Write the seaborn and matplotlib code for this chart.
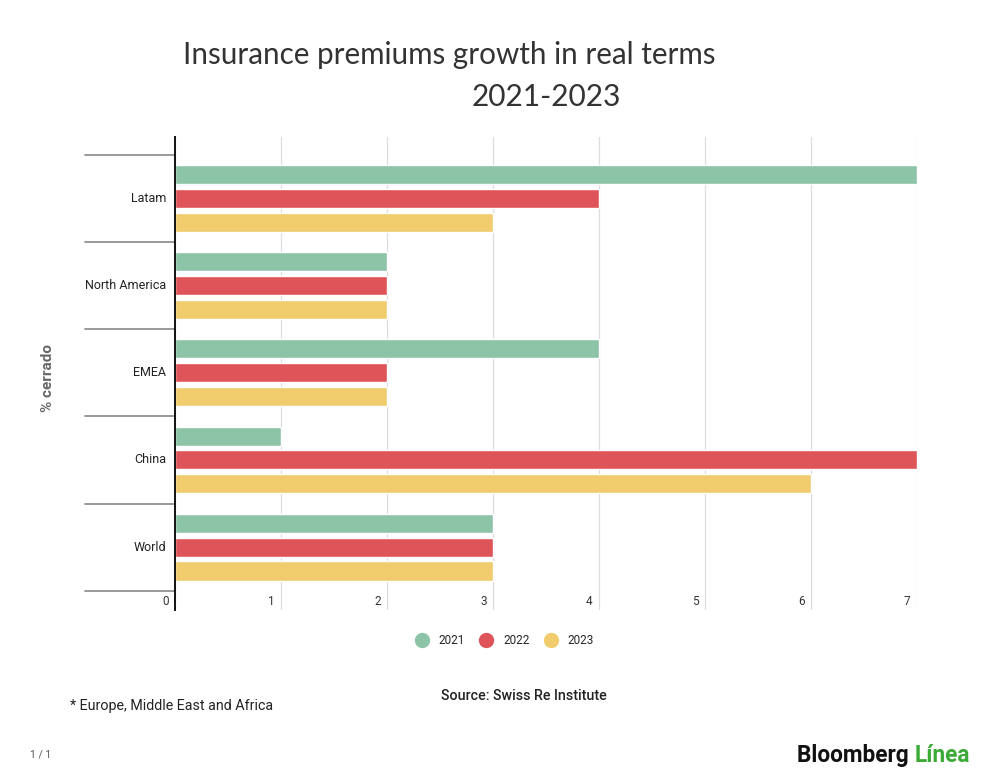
import pandas as pd
import matplotlib.pyplot as plt
import matplotlib.transforms as mtransforms
from matplotlib.lines import Line2D
import seaborn as sns

regions = ['Latam', 'North America', 'EMEA', 'China', 'World']
years = ['2021', '2022', '2023']
growth_2021 = [7, 2, 4, 1, 3]
growth_2022 = [4, 2, 2, 7, 3]
growth_2023 = [3, 2, 2, 6, 3]
x_ticks = [0, 1, 2, 3, 4, 5, 6, 7]
colors = ['#8DC4A8', '#DF5458', '#F0CC6C']

df = pd.DataFrame({
    'region': regions * 3,
    'year': [y for y in years for _ in regions],
    'value': growth_2021 + growth_2022 + growth_2023,
})

sns.set_theme(style='white')
plt.rcParams['font.family'] = ['Roboto', 'DejaVu Sans']

fig = plt.figure(figsize=(10, 7.84), dpi=100)
ax = fig.add_axes([0.175, 0.222, 0.742, 0.603])

sns.barplot(data=df, y='region', x='value', hue='year', order=regions,
            hue_order=years, palette=colors, orient='h', width=0.82,
            gap=0.2, saturation=1, ax=ax, legend=False)

ax.set_xlim(0, 7)
ax.set_ylim(4.72, -0.7)
ax.set_xticks(x_ticks)
ax.set_xticklabels([])
ax.tick_params(axis='both', length=0)
ax.set_yticks([])
ax.set_xlabel('')
ax.set_ylabel('')
for s in ['top', 'right', 'bottom']:
    ax.spines[s].set_visible(False)
ax.spines['left'].set_color('#111111')
ax.spines['left'].set_linewidth(1.4)
ax.grid(axis='x', color='#dddddd', linewidth=0.9)
ax.set_axisbelow(True)

# tick labels sit inside, left of each gridline
for t in x_ticks:
    ax.text(t - 0.06, 4.62, str(t), ha='right', va='center', fontsize=8.5,
            color='#333333')

# category labels and separators to the left of the axis
trans = mtransforms.blended_transform_factory(ax.transAxes, ax.transData)
for i, r in enumerate(regions):
    ax.text(-0.012, i, r, transform=trans, ha='right', va='center',
            fontsize=9, color='#222222')
for i in range(len(regions) + 1):
    ax.plot([-0.121, 0], [i - 0.5, i - 0.5], transform=trans, color='#888888',
            linewidth=1.2, clip_on=False)

fig.text(0.048, 0.518, '% cerrado', rotation=90, ha='center', va='center',
         fontsize=11, fontweight='bold', color='#666666')

fig.text(0.449, 0.930, 'Insurance premiums growth in real terms', ha='center',
         va='center', fontsize=21.3, color='#333333', family=['Lato', 'DejaVu Sans'])
fig.text(0.546, 0.876, '2021-2023', ha='center', va='center', fontsize=21.5,
         color='#333333', family=['Lato', 'DejaVu Sans'])

handles = [Line2D([0], [0], marker='o', linestyle='', markersize=10,
                  markerfacecolor=c, markeredgecolor=c) for c in colors]
fig.legend(handles, years, loc='center', bbox_to_anchor=(0.502, 0.183), ncol=3,
           frameon=False, fontsize=8.5, handletextpad=0.4, columnspacing=0.8)

fig.text(0.524, 0.112, 'Source: Swiss Re Institute', ha='center', va='center',
         fontsize=10.3, fontweight='medium', color='#222222')
fig.text(0.070, 0.099, '* Europe, Middle East and Africa', ha='left',
         va='center', fontsize=10.3, color='#222222')
fig.text(0.030, 0.037, '1 / 1', ha='left', va='center', fontsize=7.5,
         color='#555555')
t1 = fig.text(0.797, 0.036, 'Bloomberg ', ha='left', va='center', fontsize=16.3,
              fontweight='bold', color='#111111')
fig.canvas.draw()
bb = t1.get_window_extent()
fig.text(bb.x1 / fig.bbox.width, 0.036, 'Línea', ha='left', va='center',
         fontsize=16.3, fontweight='bold', color='#3CAA36')

fig.savefig('out.png', dpi=100)
